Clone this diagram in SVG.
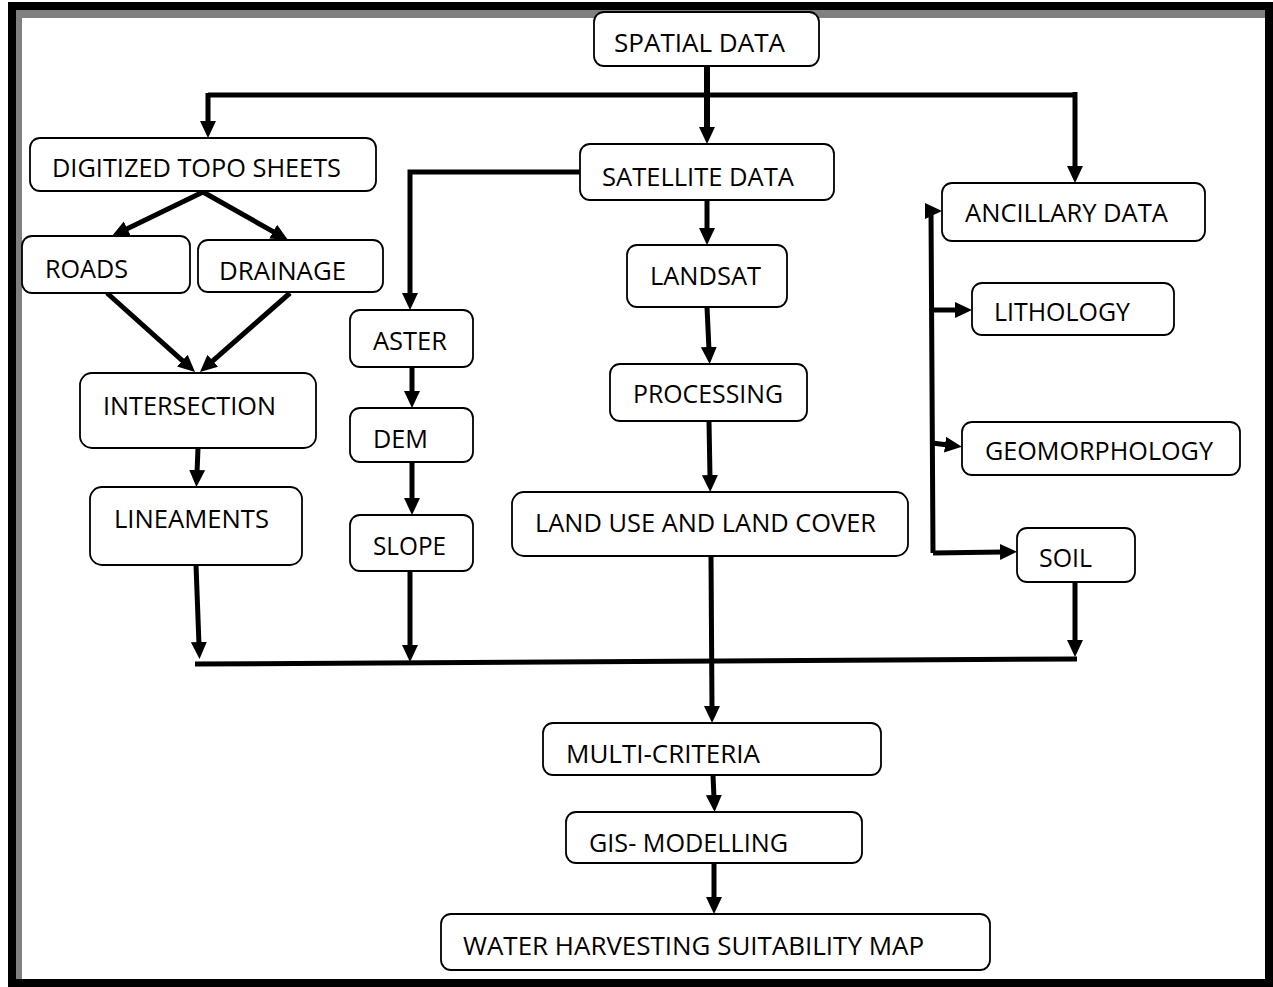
<svg xmlns="http://www.w3.org/2000/svg" width="1273" height="987" viewBox="0 0 1273 987">
<style>
.box{fill:#fff;stroke:#000;stroke-width:1.8}
.t{font-family:"Open Sans","Noto Sans",sans-serif;font-size:26px;fill:#000}
.c{stroke:#000;stroke-width:5;fill:none}
.a{stroke:#000;stroke-width:5;fill:none;marker-end:url(#ah)}
</style>
<defs>
<marker id="ah" markerUnits="userSpaceOnUse" markerWidth="18" markerHeight="18" viewBox="0 0 18 18" refX="3" refY="9" orient="auto">
<path d="M0,1 L17,9 L0,17 z" fill="#000"/>
</marker>
</defs>
<rect x="0" y="0" width="1273" height="987" fill="#fff"/>
<g id="frame">
<rect x="12" y="6" width="1257" height="977" fill="none" stroke="#000" stroke-width="8"/>
<rect x="16" y="10" width="1249" height="8" fill="#808080"/>
<rect x="16" y="10" width="6" height="969" fill="#808080"/>
</g>
<g id="connectors">
<line x1="707" y1="66" x2="707" y2="130" class="a" style="stroke-width:6"/>
<line x1="208" y1="95" x2="1075" y2="95" class="c"/>
<line x1="208" y1="93" x2="208" y2="124" class="a"/>
<line x1="1075" y1="92" x2="1075" y2="169" class="a"/>
<polyline points="580,172 410,172 410,296" class="a"/>
<line x1="203" y1="192" x2="124.6" y2="229.9" class="a"/>
<line x1="203" y1="192" x2="275.8" y2="233.1" class="a"/>
<line x1="107" y1="293" x2="184.6" y2="362.6" class="a"/>
<line x1="290" y1="293" x2="210.5" y2="362.8" class="a"/>
<line x1="198" y1="448" x2="197" y2="473" class="a"/>
<line x1="196" y1="565" x2="199" y2="645" class="a"/>
<line x1="412" y1="367" x2="412" y2="394" class="a"/>
<line x1="412" y1="462" x2="412" y2="501" class="a"/>
<line x1="410" y1="571" x2="410" y2="648" class="a"/>
<line x1="707" y1="200" x2="707" y2="231" class="a"/>
<line x1="707" y1="307" x2="709" y2="350" class="a"/>
<line x1="709" y1="421" x2="710" y2="478" class="a"/>
<line x1="711" y1="556" x2="712" y2="709" class="a"/>
<line x1="195" y1="664" x2="1077" y2="659" class="c"/>
<line x1="1075" y1="582" x2="1075" y2="643" class="a"/>
<polyline points="928,210 931,210 933,553" class="c"/>
<line x1="926" y1="211" x2="928" y2="211" class="a"/>
<line x1="931" y1="310" x2="958" y2="310" class="a"/>
<line x1="932" y1="443" x2="948" y2="445" class="a"/>
<line x1="933" y1="553" x2="1003" y2="552" class="a"/>
<line x1="713" y1="775" x2="714" y2="798" class="a"/>
<line x1="714" y1="863" x2="714" y2="900" class="a"/>
</g>
<g id="spatial"><rect class="box" x="594" y="12" width="225" height="54" rx="10"/><text class="t" x="614" y="52" textLength="171" lengthAdjust="spacingAndGlyphs">SPATIAL DATA</text></g>
<g id="topo"><rect class="box" x="30" y="138" width="346" height="53" rx="10"/><text class="t" x="52" y="177" textLength="289" lengthAdjust="spacingAndGlyphs">DIGITIZED TOPO SHEETS</text></g>
<g id="satellite"><rect class="box" x="580" y="144" width="254" height="56" rx="10"/><text class="t" x="602" y="186" textLength="192" lengthAdjust="spacingAndGlyphs">SATELLITE DATA</text></g>
<g id="ancillary"><rect class="box" x="942" y="183" width="263" height="58" rx="10"/><text class="t" x="965" y="222" textLength="203" lengthAdjust="spacingAndGlyphs">ANCILLARY DATA</text></g>
<g id="roads"><rect class="box" x="22" y="236" width="168" height="57" rx="10"/><text class="t" x="45" y="278" textLength="83" lengthAdjust="spacingAndGlyphs">ROADS</text></g>
<g id="drainage"><rect class="box" x="198" y="240" width="185" height="52" rx="10"/><text class="t" x="219" y="280" textLength="127" lengthAdjust="spacingAndGlyphs">DRAINAGE</text></g>
<g id="landsat"><rect class="box" x="627" y="245" width="160" height="62" rx="10"/><text class="t" x="650" y="285" textLength="111" lengthAdjust="spacingAndGlyphs">LANDSAT</text></g>
<g id="lithology"><rect class="box" x="972" y="283" width="202" height="52" rx="10"/><text class="t" x="994" y="321" textLength="136" lengthAdjust="spacingAndGlyphs">LITHOLOGY</text></g>
<g id="aster"><rect class="box" x="350" y="310" width="123" height="57" rx="10"/><text class="t" x="373" y="350" textLength="74" lengthAdjust="spacingAndGlyphs">ASTER</text></g>
<g id="processing"><rect class="box" x="610" y="364" width="197" height="57" rx="10"/><text class="t" x="633" y="403" textLength="150" lengthAdjust="spacingAndGlyphs">PROCESSING</text></g>
<g id="intersection"><rect class="box" x="80" y="373" width="236" height="75" rx="12"/><text class="t" x="103" y="415" textLength="173" lengthAdjust="spacingAndGlyphs">INTERSECTION</text></g>
<g id="dem"><rect class="box" x="350" y="408" width="123" height="54" rx="10"/><text class="t" x="373" y="448" textLength="55" lengthAdjust="spacingAndGlyphs">DEM</text></g>
<g id="geomorphology"><rect class="box" x="962" y="422" width="278" height="53" rx="10"/><text class="t" x="985" y="460" textLength="228" lengthAdjust="spacingAndGlyphs">GEOMORPHOLOGY</text></g>
<g id="lineaments"><rect class="box" x="90" y="487" width="212" height="78" rx="12"/><text class="t" x="114" y="528" textLength="155" lengthAdjust="spacingAndGlyphs">LINEAMENTS</text></g>
<g id="slope"><rect class="box" x="350" y="515" width="123" height="56" rx="10"/><text class="t" x="373" y="555" textLength="73" lengthAdjust="spacingAndGlyphs">SLOPE</text></g>
<g id="lulc"><rect class="box" x="512" y="492" width="396" height="64" rx="12"/><text class="t" x="535" y="532" textLength="341" lengthAdjust="spacingAndGlyphs">LAND USE AND LAND COVER</text></g>
<g id="soil"><rect class="box" x="1017" y="528" width="118" height="54" rx="10"/><text class="t" x="1039" y="567" textLength="53" lengthAdjust="spacingAndGlyphs">SOIL</text></g>
<g id="multicriteria"><rect class="box" x="543" y="723" width="338" height="52" rx="10"/><text class="t" x="566" y="763" textLength="194" lengthAdjust="spacingAndGlyphs">MULTI-CRITERIA</text></g>
<g id="gis"><rect class="box" x="566" y="812" width="296" height="51" rx="10"/><text class="t" x="589" y="852" textLength="199" lengthAdjust="spacingAndGlyphs">GIS- MODELLING</text></g>
<g id="water"><rect class="box" x="441" y="914" width="549" height="56" rx="10"/><text class="t" x="463" y="955" textLength="461" lengthAdjust="spacingAndGlyphs">WATER HARVESTING SUITABILITY MAP</text></g>
</svg>
